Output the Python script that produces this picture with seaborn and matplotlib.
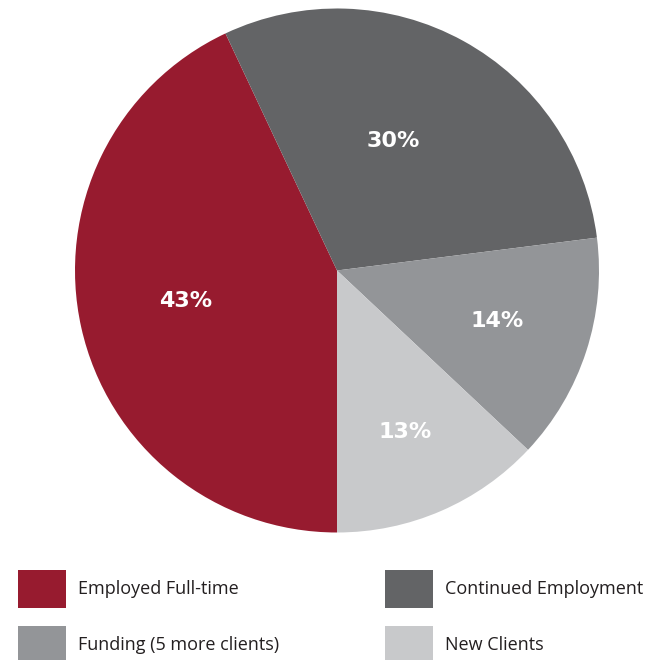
import matplotlib
matplotlib.use("Agg")
import matplotlib.pyplot as plt
from matplotlib.patches import Rectangle
import seaborn as sns

# Outcome shares (percent)
categories = ["Employed Full-time", "Continued Employment", "Funding (5 more clients)", "New Clients"]
shares = [43, 30, 14, 13]
colors = ["#971B2F", "#636466", "#939598", "#C8C9CB"]

# label anchor points inside the pie (unit-radius coordinates)
label_xy = [(-0.576, -0.115), (0.214, 0.496), (0.611, -0.191), (0.260, -0.618)]

sns.set_theme(style="white")
plt.rcParams["font.family"] = ["Open Sans", "DejaVu Sans"]
palette = sns.color_palette(colors)

W, H, DPI = 647, 660, 100
fig = plt.figure(figsize=(W / DPI, H / DPI), dpi=DPI)
fig.patch.set_facecolor("white")

# pie axes: 524 px square, centred at (337, 270) from top-left
R = 262
cx, cy = 337, 270.5
ax = fig.add_axes([(cx - R) / W, (H - cy - R) / H, 2 * R / W, 2 * R / H])
wedges, texts, autotexts = ax.pie(
    shares,
    colors=palette,
    startangle=-90,
    counterclock=False,
    radius=1,
    autopct=lambda p: f"{p:.0f}%",
    wedgeprops=dict(linewidth=0),
    textprops=dict(color="white", fontsize=16, fontweight="bold",
                   family=["DejaVu Sans"]),
)
for t, (x, y) in zip(autotexts, label_xy):
    t.set_position((x, y))
    t.set_ha("center")
    t.set_va("center")
ax.set_xlim(-1, 1)
ax.set_ylim(-1, 1)
ax.set_aspect("equal")
ax.axis("off")

# legend drawn in pixel space: two columns, two rows
def px(x, y):
    return x / W, 1 - y / H

sq_w, sq_h = 48, 38
cols_x = [18, 385]
rows_y = [570, 626]
order = [(0, 0), (1, 0), (0, 1), (1, 1)]  # (col, row) per category
for i, (c, r) in enumerate(order):
    x0, y0 = cols_x[c], rows_y[r]
    fx, fy = px(x0, y0 + sq_h)
    fig.add_artist(Rectangle((fx, fy), sq_w / W, sq_h / H,
                             transform=fig.transFigure,
                             facecolor=palette[i], edgecolor="none"))
    tx, ty = px(x0 + sq_w + 12, y0 + sq_h / 2)
    fig.text(tx, ty, categories[i], ha="left", va="center",
             fontsize=13, color="#231F20")

fig.savefig("out.png", dpi=DPI, facecolor="white")
